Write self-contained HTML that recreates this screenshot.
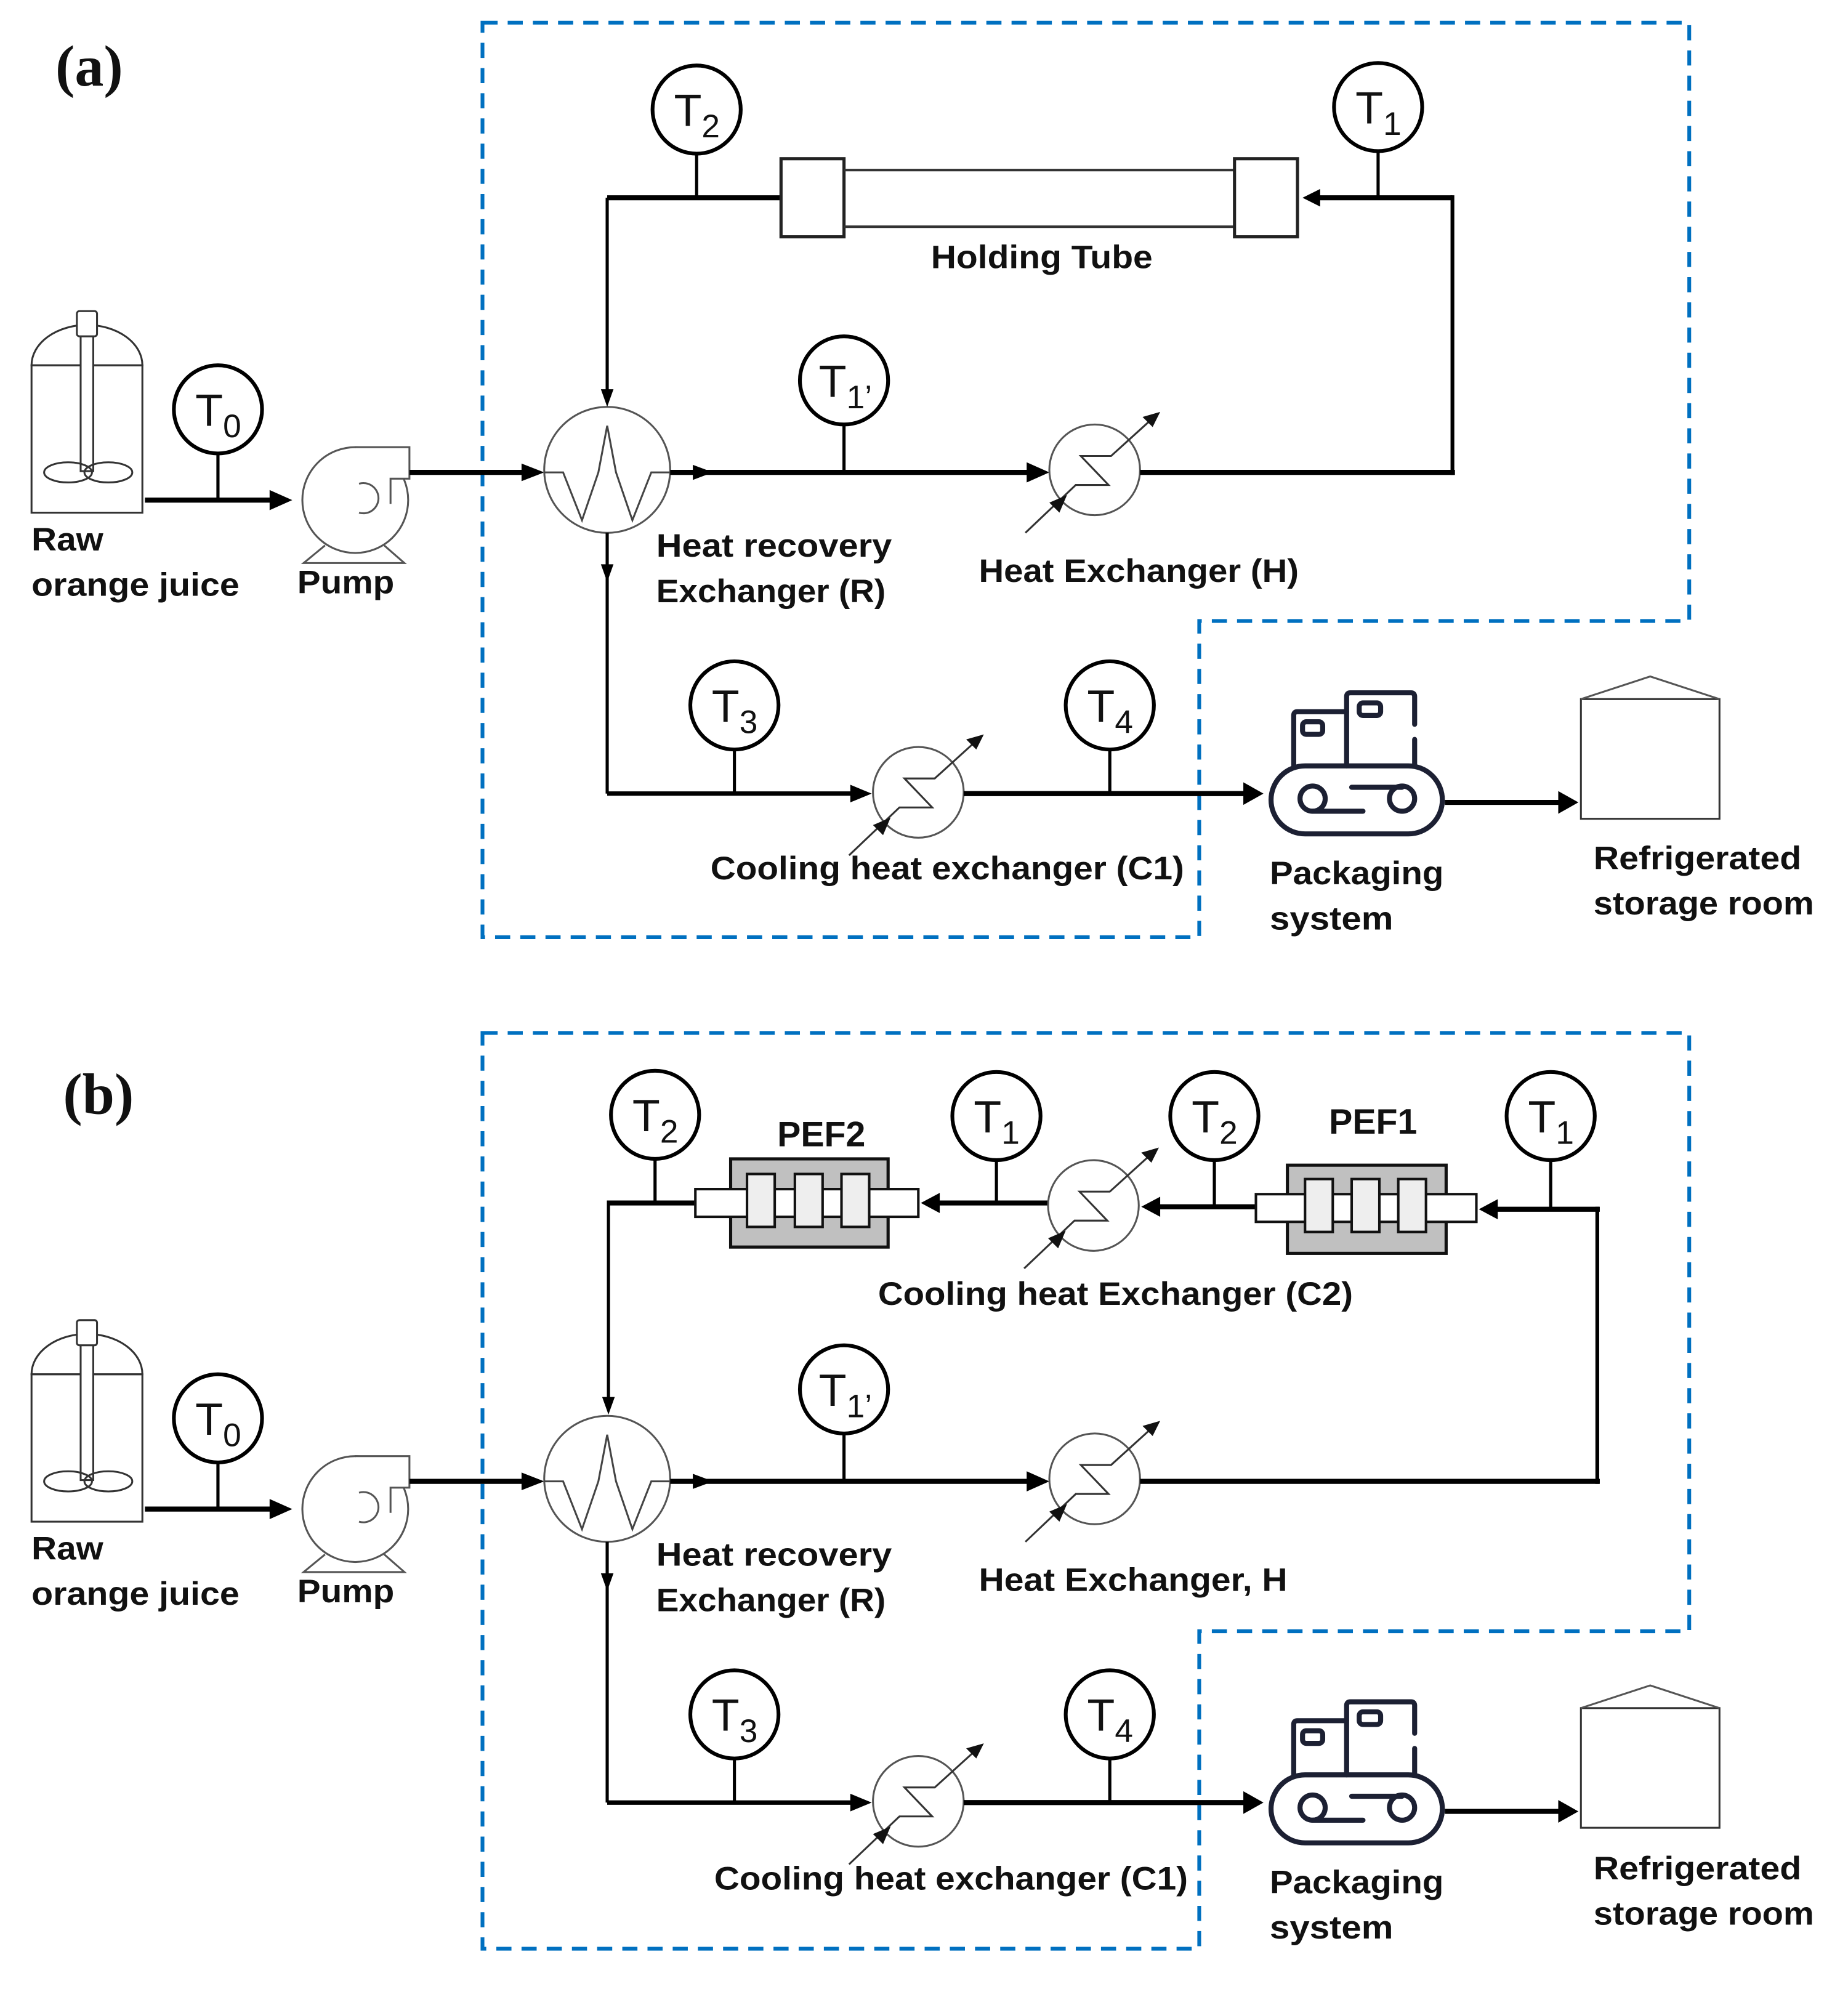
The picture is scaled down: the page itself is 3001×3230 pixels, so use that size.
<!DOCTYPE html>
<html><head><meta charset="utf-8"><style>
html,body{margin:0;padding:0;background:#fff}
svg{display:block}
.lb{font-family:"Liberation Sans",sans-serif;font-weight:bold;font-size:26px;fill:#111}
.tt{font-family:"Liberation Sans",sans-serif;font-size:36px;fill:#111}
.tt tspan{font-size:26px}
.pef{font-family:"Liberation Sans",sans-serif;font-weight:bold;font-size:28px;fill:#111}
.pl{font-family:"Liberation Serif",serif;font-weight:bold;font-size:46px;fill:#111}
.blue{fill:none;stroke:#0070c0;stroke-width:3;stroke-dasharray:12 8}
</style></head><body>
<svg width="3001" height="3230" viewBox="0 0 1467 1579" xmlns="http://www.w3.org/2000/svg">
<defs>
<g id="hx">
  <circle cx="0" cy="0" r="36" fill="#fff" stroke="#555" stroke-width="1.5"/>
  <path d="M-55,50 L-15,12 L11,12 L-11,-11 L13,-11 L45,-40" fill="none" stroke="#333" stroke-width="1.5"/>
  <polygon points="52,-46 38,-42 46,-34" fill="#111"/>
  <polygon points="-22,20 -36,26 -28,34" fill="#111"/>
</g>
<g id="low">
  <!-- tank -->
  <path d="M25,290 A44,32 0 0 1 113,290 Z" fill="#fff" stroke="#333" stroke-width="1.5"/>
  <rect x="25" y="290" width="88" height="117" fill="none" stroke="#333" stroke-width="1.5"/>
  <rect x="64" y="266" width="10" height="108" fill="#fff" stroke="#333" stroke-width="1.5"/>
  <rect x="61" y="247" width="16" height="20" rx="2" fill="#fff" stroke="#333" stroke-width="1.5"/>
  <ellipse cx="54" cy="375" rx="19" ry="8" fill="none" stroke="#333" stroke-width="1.5"/>
  <ellipse cx="86" cy="375" rx="19" ry="8" fill="none" stroke="#333" stroke-width="1.5"/>
  <!-- T0 line -->
  <line x1="173" y1="360" x2="173" y2="397" stroke="#000" stroke-width="2.5"/>
  <line x1="115" y1="397" x2="220" y2="397" stroke="#000" stroke-width="4"/>
  <polygon points="232,397 214,389 214,405" fill="#000"/>
  <!-- pump -->
  <circle cx="282" cy="397" r="42" fill="none" stroke="#555" stroke-width="1.5"/>
  <path d="M282,355 L325,355 L325,380 L310,380 L310,400" fill="#fff" stroke="#555" stroke-width="1.5"/>
  <path d="M285,384 A12,12 0 1 1 285,407" fill="none" stroke="#555" stroke-width="1.5"/>
  <path d="M258,433 L241,447 L321,447 L305,433" fill="none" stroke="#555" stroke-width="1.5"/>
  <line x1="325" y1="375" x2="420" y2="375" stroke="#000" stroke-width="4"/>
  <polygon points="432,375 414,368 414,382" fill="#000"/>
  <!-- recovery exchanger -->
  <circle cx="482" cy="373" r="50" fill="#fff" stroke="#555" stroke-width="1.5"/>
  <path d="M432,375 L447,375 L462,413 L475,375 L482,338 L489,375 L502,413 L517,375 L532,375" fill="none" stroke="#444" stroke-width="1.5"/>
  <line x1="532" y1="375" x2="820" y2="375" stroke="#000" stroke-width="4"/>
  <polygon points="566,375 550,369 550,381" fill="#000"/>
  <polygon points="833,375 815,367 815,383" fill="#000"/>
  <line x1="670" y1="337" x2="670" y2="375" stroke="#000" stroke-width="2.5"/>
  <use href="#hx" x="869" y="373"/>
  <!-- down to cooling -->
  <line x1="482" y1="423" x2="482" y2="630" stroke="#000" stroke-width="2.5"/>
  <polygon points="482,462 477,448 487,448" fill="#000"/>
  <line x1="482" y1="630" x2="680" y2="630" stroke="#000" stroke-width="3.5"/>
  <polygon points="692,630 675,623 675,637" fill="#000"/>
  <line x1="583" y1="595" x2="583" y2="630" stroke="#000" stroke-width="2.5"/>
  <use href="#hx" x="729" y="629"/>
  <line x1="765" y1="630" x2="990" y2="630" stroke="#000" stroke-width="4"/>
  <polygon points="1003,630 987,621 987,639" fill="#000"/>
  <line x1="881" y1="595" x2="881" y2="630" stroke="#000" stroke-width="2.5"/>
  <!-- packaging icon -->
  <g fill="none" stroke="#1c2033" stroke-width="4" stroke-linecap="round">
    <rect x="1009" y="608" width="136" height="54" rx="27"/>
    <circle cx="1042" cy="634" r="10"/>
    <circle cx="1113" cy="634" r="10"/>
    <line x1="1042" y1="644" x2="1082" y2="644"/>
    <line x1="1073" y1="625" x2="1113" y2="625"/>
    <path d="M1027,608 L1027,568 Q1027,565 1030,565 L1069,565"/>
    <path d="M1069,608 L1069,553 Q1069,550 1072,550 L1120,550 Q1123,550 1123,553 L1123,575 M1123,587 L1123,608"/>
    <rect x="1034" y="573" width="16" height="10" rx="3"/>
    <rect x="1079" y="558" width="17" height="10" rx="3"/>
  </g>
  <line x1="1147" y1="637" x2="1240" y2="637" stroke="#000" stroke-width="4"/>
  <polygon points="1253,637 1237,628 1237,646" fill="#000"/>
  <!-- storage -->
  <rect x="1255" y="555" width="110" height="95" fill="#fff" stroke="#333" stroke-width="1.5"/>
  <path d="M1255,555 L1310,537 L1365,555" fill="none" stroke="#555" stroke-width="1.5"/>
</g>
<g id="tc">
  <circle cx="0" cy="0" r="35" fill="#fff" stroke="#000" stroke-width="3"/>
</g>
</defs>

<!-- ================= PANEL A ================= -->
<text class="pl" x="44" y="68">(a)</text>
<path class="blue" d="M383,18 L1341,18 L1341,493 L952,493 L952,744 L383,744 Z"/>
<use href="#low"/>
<!-- top loop a -->
<line x1="553" y1="122" x2="553" y2="157" stroke="#000" stroke-width="2.5"/>
<line x1="482" y1="157" x2="620" y2="157" stroke="#000" stroke-width="4"/>
<line x1="482" y1="157" x2="482" y2="312" stroke="#000" stroke-width="2.5"/>
<polygon points="482,323 477,309 487,309" fill="#000"/>
<rect x="620" y="126" width="50" height="62" fill="#fff" stroke="#222" stroke-width="2.5"/>
<line x1="670" y1="135" x2="980" y2="135" stroke="#333" stroke-width="2"/>
<line x1="670" y1="180" x2="980" y2="180" stroke="#333" stroke-width="2"/>
<rect x="980" y="126" width="50" height="62" fill="#fff" stroke="#222" stroke-width="2.5"/>
<line x1="1094" y1="120" x2="1094" y2="157" stroke="#000" stroke-width="2.5"/>
<line x1="1046" y1="157" x2="1153" y2="157" stroke="#000" stroke-width="4"/>
<polygon points="1034,157 1048,150 1048,164" fill="#000"/>
<line x1="1153" y1="155" x2="1153" y2="377" stroke="#000" stroke-width="3"/>
<line x1="905" y1="375" x2="1155" y2="375" stroke="#000" stroke-width="4"/>
<!-- T circles a -->
<use href="#tc" x="173" y="325"/><text class="tt" x="155" y="338">T<tspan dy="9">0</tspan></text>
<use href="#tc" x="553" y="87"/><text class="tt" x="535" y="100">T<tspan dy="9">2</tspan></text>
<use href="#tc" x="1094" y="85"/><text class="tt" x="1076" y="98">T<tspan dy="9">1</tspan></text>
<use href="#tc" x="670" y="302"/><text class="tt" x="650" y="315">T<tspan dy="9">1’</tspan></text>
<use href="#tc" x="583" y="560"/><text class="tt" x="565" y="573">T<tspan dy="9">3</tspan></text>
<use href="#tc" x="881" y="560"/><text class="tt" x="863" y="573">T<tspan dy="9">4</tspan></text>
<!-- labels a -->
<text class="lb" x="739" y="213" textLength="176" lengthAdjust="spacingAndGlyphs">Holding Tube</text>
<text class="lb" x="25" y="437" textLength="57" lengthAdjust="spacingAndGlyphs">Raw</text>
<text class="lb" x="25" y="473" textLength="165" lengthAdjust="spacingAndGlyphs">orange juice</text>
<text class="lb" x="236" y="471" textLength="77" lengthAdjust="spacingAndGlyphs">Pump</text>
<text class="lb" x="521" y="442" textLength="187" lengthAdjust="spacingAndGlyphs">Heat recovery</text>
<text class="lb" x="521" y="478" textLength="182" lengthAdjust="spacingAndGlyphs">Exchanger (R)</text>
<text class="lb" x="777" y="462" textLength="254" lengthAdjust="spacingAndGlyphs">Heat Exchanger (H)</text>
<text class="lb" x="564" y="698" textLength="376" lengthAdjust="spacingAndGlyphs">Cooling heat exchanger (C1)</text>
<text class="lb" x="1008" y="702" textLength="138" lengthAdjust="spacingAndGlyphs">Packaging</text>
<text class="lb" x="1008" y="738" textLength="98" lengthAdjust="spacingAndGlyphs">system</text>
<text class="lb" x="1265" y="690" textLength="165" lengthAdjust="spacingAndGlyphs">Refrigerated</text>
<text class="lb" x="1265" y="726" textLength="175" lengthAdjust="spacingAndGlyphs">storage room</text>

<!-- ================= PANEL B ================= -->
<text class="pl" x="50" y="884">(b)</text>
<path class="blue" d="M383,820 L1341,820 L1341,1295 L952,1295 L952,1547 L383,1547 Z"/>
<use href="#low" y="801"/>
<!-- top loop b -->
<line x1="483" y1="955" x2="552" y2="955" stroke="#000" stroke-width="4"/>
<line x1="520" y1="920" x2="520" y2="955" stroke="#000" stroke-width="2.5"/>
<line x1="483" y1="953" x2="483" y2="1110" stroke="#000" stroke-width="2.5"/>
<polygon points="483,1123 478,1109 488,1109" fill="#000"/>
<!-- PEF2 -->
<rect x="580" y="920" width="125" height="70" fill="#c0c0c0" stroke="#111" stroke-width="2.5"/>
<rect x="552" y="944" width="177" height="22" fill="#fff" stroke="#111" stroke-width="2"/>
<rect x="593" y="932" width="22" height="42" fill="#eee" stroke="#111" stroke-width="2"/>
<rect x="631" y="932" width="22" height="42" fill="#eee" stroke="#111" stroke-width="2"/>
<rect x="668" y="932" width="22" height="42" fill="#eee" stroke="#111" stroke-width="2"/>
<text class="pef" x="652" y="910" text-anchor="middle">PEF2</text>
<line x1="743" y1="955" x2="832" y2="955" stroke="#000" stroke-width="4"/>
<polygon points="731,955 746,947 746,963" fill="#000"/>
<line x1="791" y1="921" x2="791" y2="955" stroke="#000" stroke-width="2.5"/>
<use href="#hx" x="868" y="957"/>
<line x1="918" y1="958" x2="997" y2="958" stroke="#000" stroke-width="4"/>
<polygon points="906,958 921,950 921,966" fill="#000"/>
<line x1="964" y1="921" x2="964" y2="958" stroke="#000" stroke-width="2.5"/>
<!-- PEF1 -->
<rect x="1022" y="925" width="126" height="70" fill="#c0c0c0" stroke="#111" stroke-width="2.5"/>
<rect x="997" y="948" width="175" height="22" fill="#fff" stroke="#111" stroke-width="2"/>
<rect x="1036" y="936" width="22" height="42" fill="#eee" stroke="#111" stroke-width="2"/>
<rect x="1073" y="936" width="22" height="42" fill="#eee" stroke="#111" stroke-width="2"/>
<rect x="1110" y="936" width="22" height="42" fill="#eee" stroke="#111" stroke-width="2"/>
<text class="pef" x="1090" y="900" text-anchor="middle">PEF1</text>
<line x1="1186" y1="960" x2="1270" y2="960" stroke="#000" stroke-width="4"/>
<polygon points="1174,960 1189,952 1189,968" fill="#000"/>
<line x1="1231" y1="921" x2="1231" y2="960" stroke="#000" stroke-width="2.5"/>
<line x1="1268" y1="958" x2="1268" y2="1178" stroke="#000" stroke-width="3"/>
<line x1="905" y1="1176" x2="1270" y2="1176" stroke="#000" stroke-width="4"/>
<!-- T circles b -->
<use href="#tc" x="520" y="885"/><text class="tt" x="502" y="898">T<tspan dy="9">2</tspan></text>
<use href="#tc" x="791" y="886"/><text class="tt" x="773" y="899">T<tspan dy="9">1</tspan></text>
<use href="#tc" x="964" y="886"/><text class="tt" x="946" y="899">T<tspan dy="9">2</tspan></text>
<use href="#tc" x="1231" y="886"/><text class="tt" x="1213" y="899">T<tspan dy="9">1</tspan></text>
<use href="#tc" x="173" y="1126"/><text class="tt" x="155" y="1139">T<tspan dy="9">0</tspan></text>
<use href="#tc" x="670" y="1103"/><text class="tt" x="650" y="1116">T<tspan dy="9">1’</tspan></text>
<use href="#tc" x="583" y="1361"/><text class="tt" x="565" y="1374">T<tspan dy="9">3</tspan></text>
<use href="#tc" x="881" y="1361"/><text class="tt" x="863" y="1374">T<tspan dy="9">4</tspan></text>
<!-- labels b -->
<text class="lb" x="697" y="1036" textLength="377" lengthAdjust="spacingAndGlyphs">Cooling heat Exchanger (C2)</text>
<text class="lb" x="25" y="1238" textLength="57" lengthAdjust="spacingAndGlyphs">Raw</text>
<text class="lb" x="25" y="1274" textLength="165" lengthAdjust="spacingAndGlyphs">orange juice</text>
<text class="lb" x="236" y="1272" textLength="77" lengthAdjust="spacingAndGlyphs">Pump</text>
<text class="lb" x="521" y="1243" textLength="187" lengthAdjust="spacingAndGlyphs">Heat recovery</text>
<text class="lb" x="521" y="1279" textLength="182" lengthAdjust="spacingAndGlyphs">Exchanger (R)</text>
<text class="lb" x="777" y="1263" textLength="245" lengthAdjust="spacingAndGlyphs">Heat Exchanger, H</text>
<text class="lb" x="567" y="1500" textLength="376" lengthAdjust="spacingAndGlyphs">Cooling heat exchanger (C1)</text>
<text class="lb" x="1008" y="1503" textLength="138" lengthAdjust="spacingAndGlyphs">Packaging</text>
<text class="lb" x="1008" y="1539" textLength="98" lengthAdjust="spacingAndGlyphs">system</text>
<text class="lb" x="1265" y="1492" textLength="165" lengthAdjust="spacingAndGlyphs">Refrigerated</text>
<text class="lb" x="1265" y="1528" textLength="175" lengthAdjust="spacingAndGlyphs">storage room</text>
</svg>
</body></html>
